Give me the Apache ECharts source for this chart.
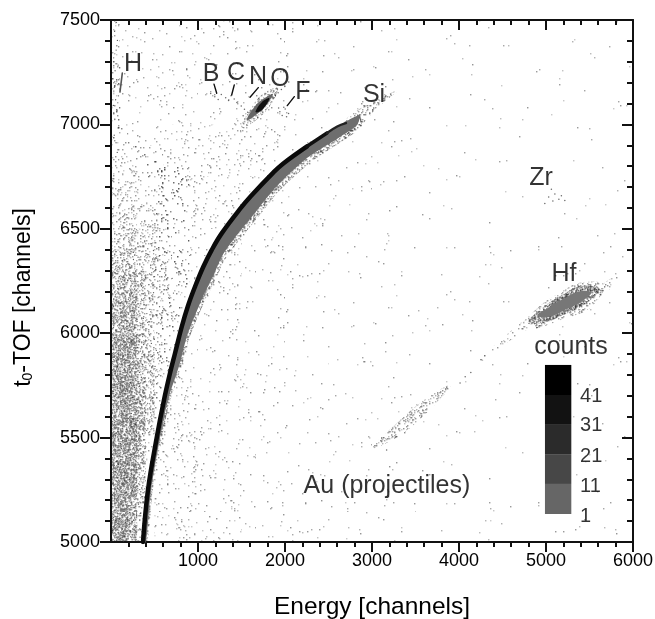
<!DOCTYPE html>
<html><head><meta charset="utf-8">
<style>html,body{margin:0;padding:0;background:#fff}#c{width:655px;height:619px}</style>
<script src="https://cdn.jsdelivr.net/npm/echarts@6/dist/echarts.min.js"></script>
</head><body><div id="c"></div>
<script>
const xTicks=[1000,2000,3000,4000,5000,6000];
const ridgeBlack=[[368,5000],[425,5249],[525,5498],[609,5680],[678,5808],[736,5904],[813,6031],[888,6135],[966,6223],[1061,6318],[1157,6398],[1272,6478],[1483,6595],[1609,6657],[1862,6768],[1977,6812],[2253,6895]];
const ridgeMid=[[2253,6895],[2483,6959]];
const ridgeEnd=[[2483,6959],[2600,6990],[2700,7006]];
const bandUpper=[[368,5000],[425,5249],[525,5498],[609,5680],[678,5808],[736,5904],[813,6031],[888,6135],[966,6223],[1061,6318],[1157,6398],[1272,6478],[1483,6595],[1609,6657],[1862,6768],[2253,6895],[2483,6959],[2667,7006],[2800,7035],[2862,7045]];
const bandLower=[[2828,6997],[2632,6940],[2253,6839],[1885,6695],[1655,6576],[1448,6470],[1284,6375],[1172,6271],[1057,6175],[943,6063],[870,5983],[793,5857],[655,5680],[563,5498],[460,5249],[402,5000]];
const bandOuter=[[2880,6990],[2680,6925],[2300,6820],[1930,6680],[1700,6560],[1490,6455],[1320,6360],[1200,6255],[1085,6160],[970,6050],[895,5970],[815,5845],[675,5670],[585,5498],[480,5249],[420,5000]];
const tipFan=[[2650,6930],[2850,6985],[3050,7075],[3300,7165],[3000,7105],[2780,7055],[2680,7010]];
const nOuter=[[1560,7020],[1650,7085],[1760,7125],[1860,7145],[1790,7095],[1680,7050]];
const nInner=[[1660,7060],[1730,7105],[1820,7125],[1760,7080],[1700,7060]];
const nFuzz=[[1500,6985],[1620,7085],[1760,7150],[1920,7175],[1830,7090],[1680,7025]];
const hStreak=[[103,7155],[130,7246]];
const hfBlob=[[4900,6085],[5050,6128],[5200,6165],[5380,6200],[5520,6195],[5400,6150],[5200,6108],[5030,6078]];
const hfDense=[[4790,6050],[5000,6135],[5200,6187],[5400,6226],[5610,6208],[5420,6132],[5200,6088],[5000,6052]];
const hfFuzz=[[4700,6020],[4900,6120],[5200,6205],[5430,6245],[5670,6230],[5500,6120],[5200,6068],[4900,6025]];
const hfTail=[[4240,5880],[4500,5975],[4800,6075],[4830,6040],[4520,5945],[4260,5865]];
const hfFar=[[5560,6190],[5700,6250],[5800,6270],[5740,6215],[5620,6170]];
const auBlob=[[3000,5450],[3300,5575],[3600,5680],[3900,5750],[3620,5615],[3300,5505]];
const leaders=[[[1184,7193],[1215,7149]],[[1417,7189],[1387,7141]],[[1693,7176],[1598,7130]],[[2107,7133],[2026,7090]]];
const hazeX=[50,150,250,350,450,550,650,750,850];
const hazeY=[5050,5150,5250,5350,5450,5550,5650,5750,5850,5950,6050,6150,6250,6350,6450,6550,6650,6750,6850,6950,7050,7150,7250,7350,7450];
const hazeLevels=[
[8,9,6,2,0,0,0,0,0],[8,9,7,3,0,0,0,0,0],[8,9,8,4,0,0,0,0,0],[8,9,8,5,1,0,0,0,0],
[8,9,8,6,2,0,0,0,0],[8,9,8,6,3,0,0,0,0],[8,9,8,6,4,1,0,0,0],[8,9,8,6,4,2,0,0,0],
[8,8,7,5,4,2,1,0,0],[7,8,7,5,3,2,1,0,0],[6,7,6,4,3,2,1,1,0],[6,7,6,4,3,2,2,1,0],
[5,6,5,4,3,2,2,1,1],[4,5,4,3,3,2,2,1,1],[3,4,4,3,2,2,2,1,1],[3,3,3,2,2,2,1,1,1],
[3,3,2,2,2,2,1,1,1],[2,2,2,1,1,1,1,1,1],[2,1,1,1,1,1,0,0,0],[2,1,0,0,0,0,0,0,0],
[2,0,0,0,0,0,0,0,0],[2,0,0,0,0,0,0,0,0],[2,0,0,0,0,0,0,0,0],[1,0,0,0,0,0,0,0,0],[1,0,0,0,0,0,0,0,0]];
const levelDensity=[0,40,80,130,190,260,340,420,500,580];
const fieldX=[0,500,1000,1500,2000,2500,3000,3500,4000,4500,5000,5500,6000];
const fieldY=[5000,5250,5500,5750,6000,6250,6500,6750,7000,7250,7500];
const fieldDensity=[
[0,30,14,8,6,5,4,3,2,2,2,2],[0,30,14,8,6,5,4,3,2,2,2,2],[0,30,14,8,5,4,4,3,3,2,2,2],[0,20,14,8,5,4,3,3,2,2,2,2],
[0,20,14,8,6,4,3,3,2,3,3,3],[0,25,16,10,6,4,3,3,2,2,3,4],[0,30,25,14,8,5,3,3,2,2,2,2],[10,30,30,20,5,4,4,3,2,2,2,2],
[15,20,15,12,8,5,4,3,2,2,2,2],[10,12,10,8,6,4,3,2,2,2,2,2]];
const leftDots=[
[22,5012],[47,5031],[63,5008],[88,5044],[104,5019],[131,5062],[152,5027],[176,5071],[198,5015],[224,5053],[251,5036],[283,5009],[312,5058],[36,5077],[79,5089],[118,5096],[167,5093],[209,5084],[246,5098],[334,5023],[18,5055],[143,5003],[57,5066],[95,5072],[270,5075],
[28,5118],[54,5102],[71,5139],[99,5111],[127,5127],[149,5158],[188,5106],[212,5141],[237,5119],[264,5165],[296,5128],[341,5137],[19,5171],[44,5183],[83,5164],[110,5192],[136,5177],[163,5196],[201,5173],[229,5188],[258,5104],[316,5181],[68,5197],[34,5149],[92,5153],
[16,5226],[41,5207],[66,5241],[89,5219],[115,5258],[139,5211],[172,5236],[196,5262],[221,5214],[248,5247],[277,5229],[305,5268],[355,5217],[27,5283],[58,5274],[101,5291],[128,5279],[154,5296],[183,5284],[214,5299],[241,5278],[289,5296],[331,5251],[73,5258],[366,5283],
[21,5312],[49,5338],[76,5307],[97,5345],[124,5319],[158,5331],[179,5309],[206,5352],[233,5326],[262,5317],[291,5348],[324,5322],[372,5341],[38,5367],[62,5386],[85,5372],[113,5396],[141,5363],[169,5389],[194,5376],[226,5398],[255,5369],[284,5391],[318,5373],[358,5395],
[17,5418],[43,5403],[69,5436],[93,5415],[121,5447],[146,5426],[174,5409],[203,5441],[231,5421],[259,5452],[287,5413],[315,5437],[347,5424],[391,5448],[31,5478],[56,5463],[82,5491],[108,5471],[134,5486],[161,5468],[187,5497],[217,5476],[244,5492],[273,5466],[302,5483],[336,5472],[377,5489],
[24,5523],[51,5508],[78,5531],[103,5516],[129,5544],[155,5512],[181,5538],[209,5519],[236,5552],[266,5527],[294,5509],[328,5541],[362,5518],[411,5535],[39,5572],[65,5586],[91,5566],[117,5597],[144,5578],[171,5561],[199,5592],[228,5574],[252,5589],[281,5563],[309,5582],[343,5569],[386,5594],[437,5571],
[19,5618],[46,5603],[72,5634],[96,5612],[123,5647],[151,5626],[178,5608],[205,5639],[234,5616],[261,5651],[292,5624],[321,5605],[354,5642],[399,5619],[449,5637],[33,5678],[59,5662],[86,5691],[112,5671],[138,5686],[165,5664],[192,5697],[219,5676],[247,5692],[276,5668],[306,5684],[339,5673],[374,5696],[422,5664],[478,5689],
[25,5721],[52,5706],[77,5738],[102,5716],[131,5748],[159,5712],[184,5733],[211,5754],[239,5719],[268,5741],[298,5707],[329,5746],[368,5725],[407,5751],[461,5714],[37,5776],[63,5792],[88,5771],[116,5788],[142,5767],[173,5796],[197,5778],[224,5763],[254,5794],[283,5775],[313,5761],[349,5789],[388,5768],[433,5785],[492,5772],[531,5793],
[20,5823],[48,5807],[74,5841],[99,5818],[126,5853],[153,5829],[182,5811],[208,5846],[237,5824],[265,5858],[296,5833],[327,5812],[361,5849],[404,5827],[451,5816],[506,5841],[35,5884],[61,5868],[87,5897],[114,5876],[140,5891],[167,5871],[195,5899],[221,5881],[249,5864],[279,5893],[311,5878],[344,5869],[381,5896],[426,5874],[472,5889],[549,5882],
[23,5922],[53,5906],[81,5939],[107,5918],[133,5948],[162,5927],[189,5911],[216,5943],[243,5921],[272,5953],[303,5932],[337,5914],[375,5946],[416,5925],[464,5951],[521,5918],[41,5978],[67,5992],[94,5969],[121,5986],[148,5964],[176,5997],[204,5976],[232,5961],[263,5989],[293,5973],[326,5958],[364,5984],[397,5967],[444,5993],[498,5971],[573,5988],
[29,6027],[58,6011],[91,6041],[119,6019],[147,6053],[178,6034],[207,6013],[241,6048],[271,6025],[301,6057],[338,6036],[379,6016],[421,6052],[468,6029],[529,6044],[596,6021],[44,6087],[76,6073],[111,6096],[139,6079],[171,6062],[202,6091],[234,6074],[267,6098],[299,6066],[333,6084],[372,6071],[412,6094],[459,6068],[514,6088],[582,6072],[641,6093],
[26,6128],[69,6112],[103,6143],[137,6118],[169,6151],[206,6127],[244,6109],[281,6146],[319,6124],[358,6157],[403,6132],[447,6114],[497,6149],[558,6127],[618,6111],[51,6184],[92,6168],[128,6193],[163,6176],[199,6161],[236,6189],[274,6172],[312,6197],[351,6163],[394,6182],[438,6169],[489,6194],[547,6173],[604,6188],[672,6167],[718,6192],
[33,6231],[78,6214],[117,6246],[156,6223],[193,6252],[231,6229],[272,6211],[309,6247],[349,6226],[388,6258],[436,6233],[484,6216],[538,6249],[597,6231],[659,6213],[48,6289],[96,6272],[144,6294],[181,6276],[222,6263],[263,6291],[304,6273],[347,6297],[396,6268],[443,6284],[501,6271],[563,6296],[628,6278],[703,6263],[781,6288],
[38,6336],[86,6317],[132,6349],[176,6328],[219,6311],[258,6353],[303,6331],[352,6318],[401,6346],[457,6324],[519,6358],[584,6329],[651,6342],[739,6316],[824,6347],[59,6391],[107,6376],[159,6398],[207,6372],[256,6387],[311,6364],[367,6393],[423,6377],[488,6396],[553,6369],[621,6388],[696,6373],[788,6395],
[33,6831],[72,6866],[58,6912],[37,6948],[81,6983],[44,7023],[69,7066],[29,7091],[53,7118],[86,7137],[38,7178],[66,7213],[47,7257],[82,7284],[31,7319],[59,7356],[74,7402],[41,7446],[91,7478],[63,7489]];
const sparseDots=[
[5031,6652],[5102,6667],[5148,6641],[5079,6633],[4986,6621],[5177,6658],[5216,6636],[5062,6689],
[1146,7148],[1193,7132],[1232,7119],[1268,7143],[1318,7128],[1351,7114],[1379,7137],[1416,7122],[1447,7105],[1497,7088],[1534,7073],[1571,7058],[1519,7041],
[1941,7061],[1968,7043],[2002,7074],[1986,7082],[1927,7078],[2041,7052],[2018,7037],[1889,7139],[1921,7152],[1958,7167],[1998,7181],[2043,7203],
[3168,5441],[4012,5762],[4071,5791],[4136,5812]];
const colorbarEdges=[5848,5704,5565,5421,5278,5134];
const colorbarX=[4988,5291];
const colorbarColors=['#000000','#121212','#2b2b2b','#474747','#666666'];
const notes=[['H',253,7289],['B',1149,7241],['C',1437,7246],['N',1690,7227],['O',1943,7217],['F',2207,7155],['Si',3023,7141],['Zr',4943,6743],['Hf',5207,6284],['counts',5287,5934],['Au (projectiles)',3172,5268]];
const barLabels=[['41',5391,5696],['31',5391,5556],['21',5391,5409],['11',5391,5266],['1',5391,5122]];

const FONT='"Liberation Sans", Arial, sans-serif';
// grain fill: a fixed texture standing in for the picture's pixel noise; how dense it is comes from the tables above
const tiles={};
function grain(permille){
  if(tiles[permille])return tiles[permille];
  const S=256,cv=document.createElement('canvas');cv.width=cv.height=S;const g=cv.getContext('2d');
  for(let y=0;y<S;y++)for(let x=0;x<S;x++){
    let h=Math.imul(x+1,73856093)^Math.imul(y+1,19349663);h=Math.imul(h^(h>>>13),1274126177);h=(h^(h>>>16))>>>0;
    if(h%1000<permille){const a=0.45+((h>>>12)%55)/100;g.fillStyle='rgba(30,30,30,'+a+')';g.fillRect(x+0.3,y+0.3,1,1);}
  }
  return tiles[permille]={image:cv,repeat:'repeat'};
}
const cells=[];
fieldDensity.forEach((row,r)=>row.forEach((v,c)=>{if(v>0)cells.push([fieldX[c],fieldY[r],fieldX[c+1],fieldY[r+1],v]);}));
hazeY.forEach((y,r)=>hazeX.forEach((x,c)=>{const l=hazeLevels[r][c];if(l>0)cells.push([x-50,y-50,x+50,y+50,levelDensity[l]]);}));
const cellSeries={type:'custom',silent:true,z:1,data:cells,encode:{x:[0,2],y:[1,3]},
 renderItem:(p,api)=>{const a=api.coord([api.value(0),api.value(3)]),b=api.coord([api.value(2),api.value(1)]);
  return {type:'rect',shape:{x:a[0],y:a[1],width:b[0]-a[0],height:b[1]-a[1]},style:{fill:grain(api.value(4))}};}};
const polygonSeries=(pts,fill,z,smooth)=>({type:'custom',silent:true,z,data:[[pts[0][0],pts[0][1]]],encode:{x:0,y:1},
 renderItem:(p,api)=>({type:'polygon',shape:{points:pts.map(q=>api.coord(q)),smooth:smooth},style:{fill}})});
const line=(data,color,width,extra)=>Object.assign({type:'line',data,symbol:'none',smooth:0.4,silent:true,lineStyle:{color,width,cap:'round',join:'round'},z:4},extra||{});
const dots=(data,size,color)=>({type:'scatter',data,symbolSize:size,silent:true,itemStyle:{color},z:2});
const text=(data,size)=>({type:'scatter',symbolSize:0,silent:true,z:6,data:data.map(d=>({value:[d[1],d[2]],name:d[0]})),
  label:{show:true,position:'inside',formatter:p=>p.name,color:'#000',fontFamily:FONT,fontSize:size}});
const series=[
 cellSeries,
 dots(leftDots,1.3,'#333'),dots(sparseDots,1.5,'#444'),
 polygonSeries(bandUpper.concat(bandOuter),grain(300),3,0.25),
 polygonSeries(tipFan,grain(180),3,0.3),
 polygonSeries(bandUpper.concat(bandLower),'#6e6e6e',3,0.25),
 line(ridgeBlack,'#0a0a0a',4.5),line(ridgeMid,'#111',3.5,{smooth:false}),line(ridgeEnd,'#222',2.5),
 polygonSeries(nFuzz,grain(250),3,0.4),
 polygonSeries(nOuter,'#666',4,0.4),polygonSeries(nInner,'#111',4,0.4),
 line(hStreak,'#555',1.6,{smooth:false}),
 polygonSeries(hfFuzz,grain(160),3,0.4),polygonSeries(hfTail,grain(70),3,0.3),polygonSeries(hfFar,grain(70),3,0.3),
 polygonSeries(hfDense,grain(620),3,0.4),
 polygonSeries(hfBlob,'#777',4,0.4),
 polygonSeries(auBlob,grain(160),3,0.4),
 ...leaders.map(l=>line(l,'#111',1.4,{smooth:false,z:5})),
 {type:'custom',silent:true,z:5,data:colorbarColors.map((c,i)=>[i]),encode:{x:[],y:[]},
  renderItem:(p,api)=>{const i=api.value(0);const a=api.coord([colorbarX[0],colorbarEdges[i]]);const b=api.coord([colorbarX[1],colorbarEdges[i+1]]);
   return {type:'rect',shape:{x:a[0],y:a[1],width:b[0]-a[0],height:b[1]-a[1]},style:{fill:colorbarColors[i]}};}},
 text(notes,25),
 Object.assign(text(barLabels,20),{label:{show:true,position:'right',distance:0,formatter:p=>p.name,color:'#000',fontFamily:FONT,fontSize:20}})
];
const axisCommon={axisLine:{onZero:false,lineStyle:{color:'#111',width:2}},splitLine:{show:false},minorSplitLine:{show:false}};
const chart=echarts.init(document.getElementById('c'),null,{renderer:'canvas'});
chart.setOption({animation:false,backgroundColor:'#fff',
 grid:{left:111,right:22,top:20,bottom:77,containLabel:false,outerBoundsMode:'none'},
 xAxis:[Object.assign({},axisCommon,{type:'value',min:0,max:6000,interval:1000,position:'bottom',
   axisTick:{length:10,inside:false,customValues:xTicks,lineStyle:{color:'#111',width:2}},
   minorTick:{show:true,splitNumber:5,length:5,lineStyle:{color:'#111',width:2}},
   axisLabel:{fontFamily:FONT,fontSize:18,color:'#000',margin:10,customValues:xTicks,formatter:v=>String(v)},
   name:'Energy [channels]',nameLocation:'middle',nameGap:53,nameTextStyle:{fontFamily:FONT,fontSize:24.5,color:'#000'}}),
  Object.assign({},axisCommon,{type:'value',min:0,max:6000,interval:1000,position:'top',
   axisTick:{length:10,inside:true,customValues:xTicks,lineStyle:{color:'#111',width:2}},
   minorTick:{show:true,splitNumber:5,length:5,lineStyle:{color:'#111',width:2}},axisLabel:{show:false}})],
 yAxis:[Object.assign({},axisCommon,{type:'value',min:5000,max:7500,interval:500,position:'left',
   axisTick:{length:11,inside:false,lineStyle:{color:'#111',width:2}},
   minorTick:{show:true,splitNumber:5,length:6,lineStyle:{color:'#111',width:2}},
   axisLabel:{fontFamily:FONT,fontSize:18,color:'#000',margin:11,formatter:v=>String(v)},
   name:'{t|t}{s|0}{t|-TOF [channels]}',nameLocation:'middle',nameGap:76,nameRotate:90,
   nameTextStyle:{padding:[0,33,0,0],rich:{t:{fontFamily:FONT,fontSize:23,color:'#000'},s:{fontFamily:FONT,fontSize:14,color:'#000',verticalAlign:'bottom',padding:[8,0,0,0]}}}}),
  Object.assign({},axisCommon,{type:'value',min:5000,max:7500,interval:500,position:'right',
   axisTick:{length:11,inside:true,lineStyle:{color:'#111',width:2}},
   minorTick:{show:true,splitNumber:5,length:6,lineStyle:{color:'#111',width:2}},axisLabel:{show:false}})],
 series
});
</script></body></html>
